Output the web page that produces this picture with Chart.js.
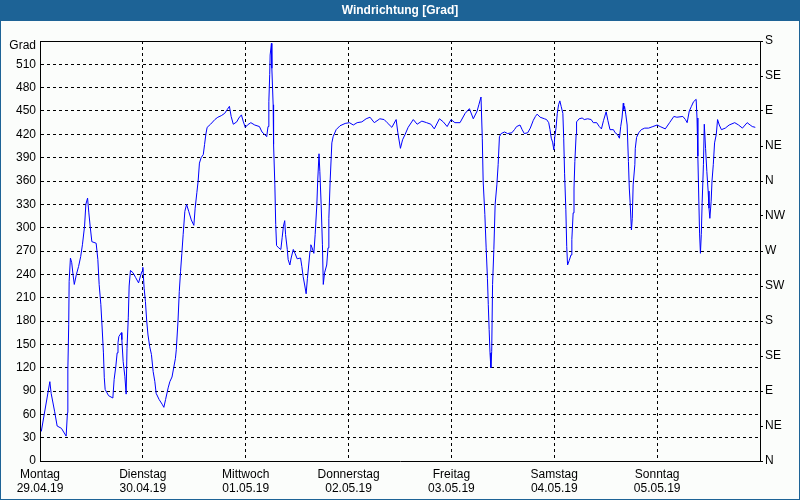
<!DOCTYPE html>
<html>
<head>
<meta charset="utf-8">
<script src="https://cdn.jsdelivr.net/npm/chart.js@4"></script>
<style>
  body { margin: 0; background: #fbfdfb; }
  #wrap { width: 800px; height: 500px; position: relative; }
</style>
</head>
<body>
<div id="wrap"><canvas id="chart"></canvas></div>
<script>
// hours since Monday 29.04.19 00:00
const hours = [
  0.3, 2.3, 2.6, 3.4, 4.0, 5.0, 6.1, 6.4, 6.5, 6.7, 6.8, 7.1, 7.4, 7.7, 8.0, 8.5, 9.0, 9.5, 9.9, 10.4,
  10.7, 11.1, 11.4, 11.7, 12.1, 13.1, 13.5, 13.8, 14.2, 14.5, 14.8, 15.0, 15.2, 16.0, 17.0, 17.3, 17.7, 18.0, 18.2, 18.4,
  19.0, 19.1, 19.4, 19.8, 20.1, 20.3, 20.6, 20.8, 21.1, 21.7, 22.3, 23.0, 23.5, 23.8, 24.0, 24.3, 24.6, 24.9, 25.2, 25.6,
  26.0, 26.4, 26.8, 27.1, 27.8, 28.5, 28.9, 29.3, 29.9, 30.3, 30.8, 31.2, 31.6, 31.8, 32.2, 32.5, 32.8, 33.1, 33.4, 33.8,
  34.2, 34.7, 35.3, 35.9, 36.2, 36.6, 36.9, 37.2, 37.6, 38.1, 38.4, 38.7, 39.0, 39.8, 40.8, 41.5, 42.3, 43.1, 43.7, 44.2,
  44.6, 45.1, 45.9, 46.4, 47.0, 47.4, 47.9, 48.4, 49.2, 50.1, 51.2, 51.8, 52.4, 52.9, 53.2, 53.4, 53.6, 53.7, 54.0, 54.1,
  54.4, 54.5, 54.8, 55.0, 55.2, 55.7, 56.2, 56.5, 56.8, 57.1, 57.3, 57.7, 57.9, 58.3, 58.6, 59.1, 59.5, 60.0, 60.8, 61.1,
  61.4, 61.8, 62.1, 62.4, 62.7, 63.0, 63.2, 63.5, 63.9, 64.2, 64.6, 64.8, 65.1, 65.3, 65.6, 65.9, 66.1, 66.4, 66.9, 67.2,
  67.4, 67.7, 68.1, 68.4, 69.1, 70.0, 71.2, 72.2, 73.1, 74.0, 75.1, 76.1, 77.0, 78.0, 79.3, 80.3, 81.0, 82.1, 83.1, 83.5,
  84.1, 84.6, 85.2, 85.9, 87.1, 88.0, 89.1, 90.2, 91.2, 92.0, 93.2, 94.1, 95.0, 95.9, 96.8, 98.0, 99.2, 100.2, 101.1, 102.0,
  102.4, 102.9, 103.2, 103.4, 103.8, 104.1, 104.4, 104.6, 104.8, 105.0, 105.2, 105.4, 105.6, 105.9, 106.2, 106.6, 106.9, 107.2, 107.6, 108.4,
  109.1, 110.1, 110.7, 111.2, 112.0, 112.5, 113.0, 113.8, 114.4, 115.1, 115.6, 116.0, 116.7, 117.7, 118.2, 118.7, 119.0, 119.3, 119.6, 119.9,
  120.1, 120.4, 120.7, 121.0, 121.3, 121.6, 122.0, 122.2, 122.4, 122.7, 122.9, 123.1, 123.5, 123.9, 124.1, 124.4, 124.6, 124.8, 125.1, 125.2,
  125.8, 126.5, 127.0, 127.8, 128.6, 129.1, 129.9, 130.5, 131.0, 131.5, 132.1, 132.5, 133.0, 133.8, 134.2, 134.7, 135.2, 135.5, 135.8, 136.1,
  136.2, 136.4, 136.7, 137.0, 137.3, 137.5, 137.7, 138.0, 138.2, 138.4, 138.8, 138.9, 139.2, 139.7, 140.3, 141.1, 142.0, 143.0, 144.0, 144.7,
  145.9, 146.9, 147.9, 148.6, 150.0, 150.6, 151.0, 151.5, 152.0, 152.5, 153.1, 153.3, 153.5, 153.7, 153.9, 154.1, 154.3, 154.5, 154.8, 155.0,
  155.3, 155.6, 155.9, 156.1, 156.3, 156.6, 156.8, 157.1, 157.4, 157.8, 158.1, 158.5, 159.0, 159.9, 160.8, 162.1, 163.0, 163.9, 165.0, 165.7,
  166.2, 166.9
];
const degrees = [
  38, 102, 87, 64, 45, 42, 32, 62, 117, 175, 231, 261, 255, 240, 227, 240, 250, 263, 278, 302,
  330, 338, 319, 302, 282, 280, 259, 227, 201, 171, 139, 107, 92, 84, 81, 105, 122, 139, 152, 160,
  165, 156, 128, 109, 86, 145, 184, 225, 245, 242, 236, 229, 239, 244, 249, 222, 205, 180, 162, 147,
  137, 115, 102, 87, 79, 73, 69, 79, 94, 102, 108, 120, 132, 143, 180, 218, 244, 267, 291, 321,
  330, 321, 310, 303, 325, 345, 360, 383, 390, 394, 407, 420, 429, 433, 439, 442, 444, 447, 452, 456,
  443, 433, 436, 441, 445, 437, 429, 432, 435, 432, 430, 423, 420, 417, 430, 462, 497, 522, 537, 505,
  458, 407, 355, 304, 277, 274, 272, 287, 302, 309, 291, 272, 259, 252, 261, 272, 267, 260, 261, 250,
  237, 225, 215, 235, 252, 270, 278, 274, 267, 291, 330, 360, 395, 372, 330, 278, 227, 242, 252, 274,
  312, 360, 409, 417, 426, 431, 434, 435, 432, 435, 436, 440, 442, 435, 440, 439, 435, 429, 439, 422,
  402, 413, 420, 429, 439, 433, 437, 435, 433, 427, 440, 436, 430, 439, 435, 435, 447, 453, 440, 450,
  458, 468, 415, 360, 317, 274, 235, 201, 169, 139, 120, 141, 227, 272, 330, 355, 381, 417, 421, 423,
  421, 422, 426, 430, 432, 426, 421, 422, 428, 438, 443, 446, 442, 440, 439, 435, 426, 415, 410, 400,
  416, 428, 447, 458, 463, 456, 447, 415, 370, 323, 276, 252, 258, 265, 285, 319, 351, 385, 420, 436,
  440, 441, 439, 440, 439, 435, 435, 430, 427, 438, 449, 438, 426, 426, 422, 420, 415, 430, 441, 460,
  452, 456, 445, 432, 385, 351, 332, 297, 312, 355, 381, 402, 416, 422, 426, 428, 428, 430, 432, 430,
  427, 435, 443, 442, 443, 439, 435, 450, 456, 462, 465, 441, 392, 342, 293, 267, 291, 332, 381, 433,
  402, 372, 347, 325, 312, 334, 360, 381, 409, 420, 439, 432, 426, 428, 432, 435, 432, 428, 435, 432,
  430, 429
];

const dayNames = ["Montag", "Dienstag", "Mittwoch", "Donnerstag", "Freitag", "Samstag", "Sonntag"];
const dayDates = ["29.04.19", "30.04.19", "01.05.19", "02.05.19", "03.05.19", "04.05.19", "05.05.19"];
const compass = ["N", "NE", "E", "SE", "S", "SW", "W", "NW", "N", "NE", "E", "SE", "S"];

const points = hours.map((h, i) => ({ x: h, y: degrees[i] }));

const frame = {
  id: "frame",
  beforeDraw(chart) {
    const ctx = chart.ctx;
    ctx.save();
    ctx.fillStyle = "#fbfdfb";
    ctx.fillRect(0, 0, 800, 500);
    ctx.fillStyle = "#1d6396";
    ctx.fillRect(0, 0, 800, 21);
    ctx.restore();
  },
  afterDraw(chart) {
    const ctx = chart.ctx;
    const a = chart.chartArea;
    ctx.save();
    // top border of the plot
    ctx.strokeStyle = "#000";
    ctx.lineWidth = 1;
    ctx.beginPath();
    ctx.moveTo(a.left, Math.round(a.top) + 0.5);
    ctx.lineTo(a.right, Math.round(a.top) + 0.5);
    ctx.stroke();
    // blue window border
    ctx.strokeStyle = "#1d6396";
    ctx.strokeRect(0.5, 0.5, 799, 499);
    // unit label
    ctx.fillStyle = "#000";
    ctx.font = "12px 'Liberation Sans'";
    ctx.textAlign = "right";
    ctx.textBaseline = "middle";
    ctx.fillText("Grad", 36, 46);
    ctx.restore();
  }
};

Chart.defaults.color = "#000";
Chart.defaults.font.family = "'Liberation Sans', Arial, sans-serif";
Chart.defaults.font.size = 12;

new Chart(document.getElementById("chart"), {
  type: "line",
  data: {
    datasets: [{
      data: points,
      borderColor: "#0000ff",
      borderWidth: 1,
      pointRadius: 0,
      tension: 0,
      fill: false
    }]
  },
  options: {
    responsive: true,
    maintainAspectRatio: false,
    animation: false,
    layout: { padding: 0 },
    plugins: {
      legend: { display: false },
      tooltip: { enabled: false },
      title: {
        display: true,
        text: "Windrichtung [Grad]",
        color: "#ffffff",
        font: { size: 12, weight: "bold" },
        padding: { top: 3, bottom: 23.6 }
      }
    },
    scales: {
      x: {
        type: "linear",
        min: 0,
        max: 168,
        afterFit: (s) => { s.height = 39; },
        ticks: {
          stepSize: 24,
          maxRotation: 0,
          autoSkip: false,
          padding: 6,
          callback: (v) => {
            const i = v / 24;
            return i < 7 ? [dayNames[i], dayDates[i]] : "";
          }
        },
        grid: { color: "#000", drawTicks: false },
        border: { display: true, color: "#000", width: 1, dash: [3, 3] }
      },
      y: {
        position: "left",
        min: 0,
        max: 540,
        afterFit: (s) => { s.width = 40; },
        ticks: {
          stepSize: 30,
          padding: 4,
          callback: (v) => (v >= 540 ? "" : v)
        },
        grid: { color: "#000", drawTicks: false },
        border: { display: true, color: "#000", width: 1, dash: [3, 3] }
      },
      y2: {
        position: "right",
        min: 0,
        max: 540,
        afterFit: (s) => { s.width = 40; },
        ticks: {
          stepSize: 45,
          padding: 2,
          callback: (v) => compass[v / 45]
        },
        grid: { drawOnChartArea: false, drawTicks: true, tickLength: 3, color: "#000" },
        border: { display: true, color: "#000", width: 1 }
      }
    }
  },
  plugins: [frame]
});
</script>
</body>
</html>
